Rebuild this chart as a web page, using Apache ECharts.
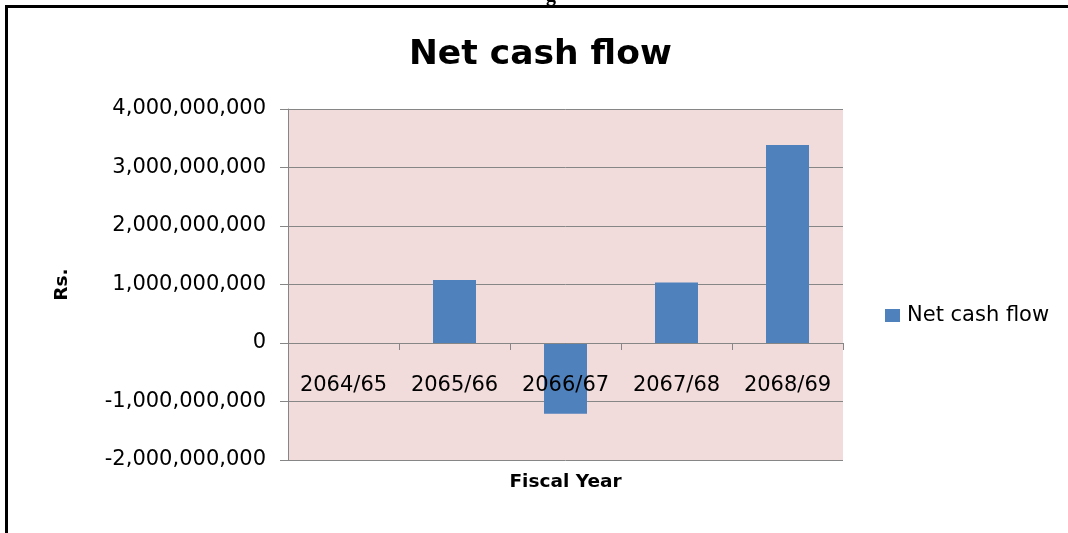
<!DOCTYPE html>
<html>
<head>
<meta charset="utf-8">
<script src="https://cdn.jsdelivr.net/npm/echarts@6/dist/echarts.min.js"></script>
<style>
  html, body { margin: 0; padding: 0; background: #ffffff; }
  #chart { width: 1068px; height: 533px; }
</style>
</head>
<body>
<div id="chart"></div>
<script>
// Fiscal years and net cash flow (Rs.)
const fiscalYears = ['2064/65', '2065/66', '2066/67', '2067/68', '2068/69'];
const netCashFlow = [0, 1077000000, -1210000000, 1036000000, 3385000000];
const seriesName = 'Net cash flow';

const FONT = 'DejaVu Sans';
const GRID_GRAY = '#868686';

const chart = echarts.init(document.getElementById('chart'), null, { renderer: 'canvas' });

chart.setOption({
  backgroundColor: '#ffffff',
  animation: false,
  title: {
    text: 'Net cash flow',
    left: 409,
    top: 38,
    padding: 0,
    textStyle: { fontFamily: FONT, fontSize: 34.5, fontWeight: 'bold', color: '#000000' }
  },
  legend: {
    data: [seriesName],
    left: 880,
    top: 300,
    itemWidth: 15,
    itemHeight: 13,
    itemGap: 6,
    icon: 'rect',
    textStyle: { fontFamily: FONT, fontSize: 21, color: '#000000', padding: [0, 0, 0, 2] }
  },
  grid: { left: 288, right: 225, top: 109, bottom: 73, containLabel: false, outerBoundsMode: 'none' },
  xAxis: {
    type: 'category',
    data: fiscalYears,
    boundaryGap: true,
    z: 10,
    name: 'Fiscal Year',
    nameLocation: 'middle',
    nameGap: 13,
    nameTextStyle: { fontFamily: FONT, fontSize: 18.5, fontWeight: 'bold', color: '#000000' },
    axisLine: { onZero: true, lineStyle: { color: GRID_GRAY, width: 1 } },
    axisTick: { show: true, length: 7, inside: false, alignWithLabel: false, lineStyle: { color: GRID_GRAY } },
    // category labels sit in the band just under the zero line, over the bars
    axisLabel: { fontFamily: FONT, fontSize: 21, color: '#000000', margin: -85, interval: 0 },
    splitLine: { show: false }
  },
  yAxis: {
    type: 'value',
    min: -2000000000,
    max: 4000000000,
    interval: 1000000000,
    name: 'Rs.',
    nameLocation: 'middle',
    nameRotate: 90,
    nameGap: 216,
    nameTextStyle: { fontFamily: FONT, fontSize: 18.5, fontWeight: 'bold', color: '#000000' },
    axisLine: { show: true, lineStyle: { color: GRID_GRAY, width: 1 } },
    axisTick: { show: true, length: 8, lineStyle: { color: GRID_GRAY } },
    axisLabel: {
      fontFamily: FONT, fontSize: 21, color: '#000000', margin: 22,
      formatter: v => v.toLocaleString('en-US')
    },
    splitLine: { show: true, lineStyle: { color: GRID_GRAY, width: 1 } },
    splitArea: { show: false }
  },
  graphic: [
    // pink plot background
    {
      type: 'rect', z: -10, silent: true,
      shape: { x: 288, y: 109, width: 555, height: 351 },
      style: { fill: '#f2dcdb' }
    },
    // page frame lines
    { type: 'rect', z: 100, silent: true, shape: { x: 5, y: 5, width: 1063, height: 3 }, style: { fill: '#000000' } },
    { type: 'rect', z: 100, silent: true, shape: { x: 5, y: 5, width: 3, height: 528 }, style: { fill: '#000000' } },
    // descender of the heading above the frame
    {
      type: 'text', z: 100, silent: true, left: 546, top: -14,
      style: { text: 'g', fontFamily: 'Liberation Serif', fontWeight: 'bold', fontSize: 20, fill: '#000000' }
    }
  ],
  series: [{
    name: seriesName,
    type: 'bar',
    data: netCashFlow,
    barWidth: 43,
    itemStyle: { color: '#4f81bd' }
  }]
});
</script>
</body>
</html>
